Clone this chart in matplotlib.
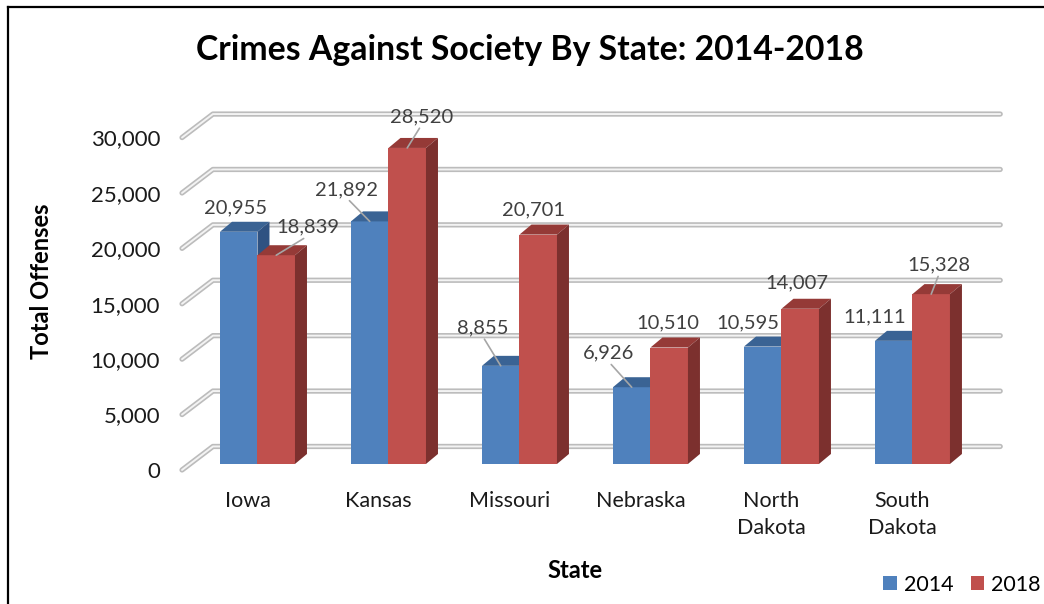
import matplotlib.pyplot as plt
from matplotlib.patches import Polygon
from matplotlib.lines import Line2D
import numpy as np

plt.rcParams["font.family"] = ["Lato", "DejaVu Sans"]

# Crimes against society, total offenses per state
states = ["Iowa", "Kansas", "Missouri", "Nebraska", "North\nDakota", "South\nDakota"]
years = ["2014", "2018"]
offenses_2014 = [20955, 21892, 8855, 6926, 10595, 11111]
offenses_2018 = [18839, 28520, 20701, 10510, 14007, 15328]
y_ticks = [0, 5000, 10000, 15000, 20000, 25000, 30000]

# Data label placement (pixel offsets from the bar top) and leader lines
label_offsets_2014 = [(-3, 24), (-23, 32), (-18, 38), (-23, 34), (-15, 24), (-19, 24)]
label_offsets_2018 = [(32, 28), (14, 31), (-5, 25), (-1, 25), (-3, 26), (8, 29)]
leaders_2014 = [False, True, True, True, False, False]
leaders_2018 = [True, True, False, False, False, True]

FRONT = {"2014": "#4f81bd", "2018": "#c0504d"}
TOP = {"2014": "#3a6394", "2018": "#953a37"}
SIDE = {"2014": "#2f5282", "2018": "#7c302e"}

# figure is 1044 x 604 px; axes box given in pixels from the top-left
FIG_W, FIG_H = 1044, 604
AX_L, AX_T, AX_R, AX_B = 165, 90, 1020, 490
X_LIM = (-0.706, 5.821)
Y_LIM = (-2350, 33750)

SX = (X_LIM[1] - X_LIM[0]) / (AX_R - AX_L)   # data units per pixel
SY = (Y_LIM[1] - Y_LIM[0]) / (AX_B - AX_T)


def main():
    fig = plt.figure(figsize=(FIG_W / 100, FIG_H / 100), dpi=100)
    ax = fig.add_axes([AX_L / FIG_W, 1 - AX_B / FIG_H,
                       (AX_R - AX_L) / FIG_W, (AX_B - AX_T) / FIG_H])
    ax.set_xlim(*X_LIM)
    ax.set_ylim(*Y_LIM)
    for s in ax.spines.values():
        s.set_visible(False)

    # 3D-looking gridlines: diagonal on the left floor edge, then along the back wall
    front_x, back_x, right_x = -0.576, -0.34, 5.67
    front_dy, back_dy = -6 * SY, 17.5 * SY
    for v in y_ticks:
        xs = [front_x, back_x, right_x]
        ys = [v + front_dy, v + back_dy, v + back_dy]
        ax.plot(xs, ys, color="#bcbcbc", lw=3.8, solid_capstyle="round",
                solid_joinstyle="round", zorder=1)
        ax.plot(xs, ys, color="#f3f3f3", lw=1.4, solid_capstyle="round",
                solid_joinstyle="round", zorder=1.1)

    x = np.arange(len(states))
    w = 37.5 * SX
    ddx, ddy = 12 * SX, 10 * SY

    series = [
        ("2014", offenses_2014, x - w / 2, label_offsets_2014, leaders_2014, 3),
        ("2018", offenses_2018, x + w / 2, label_offsets_2018, leaders_2018, 4),
    ]
    for year, vals, xc, offsets, leaders, z in series:
        ax.bar(xc, vals, w, color=FRONT[year], label=year, zorder=z)
        for xi, h in zip(xc, vals):
            x0, x1 = xi - w / 2, xi + w / 2
            top = [(x0, h), (x1, h), (x1 + ddx, h + ddy), (x0 + ddx, h + ddy)]
            side = [(x1, 0), (x1 + ddx, ddy), (x1 + ddx, h + ddy), (x1, h)]
            ax.add_patch(Polygon(top, closed=True, fc=TOP[year], ec="none", zorder=z))
            ax.add_patch(Polygon(side, closed=True, fc=SIDE[year], ec="none", zorder=z))

    for year, vals, xc, offsets, leaders, z in series:
        for xi, h, off, lead in zip(xc, vals, offsets, leaders):
            arrow = None
            if lead:
                arrow = dict(arrowstyle="-", color="#a6a6a6", lw=1.2,
                             relpos=(0.5, 0.0), shrinkA=0, shrinkB=0)
            ax.annotate(f"{h:,}", xy=(xi, h), xytext=off, textcoords="offset pixels",
                        ha="center", va="center", fontsize=14.5, color="#404040",
                        arrowprops=arrow, zorder=6)

    # axis labels sit on the front plane / slightly left of the bar groups
    ax.set_yticks([v + front_dy for v in y_ticks])
    ax.set_yticklabels([f"{v:,}" for v in y_ticks], fontsize=16, color="#1a1a1a")
    ax.set_xticks(x - 10 * SX)
    ax.set_xticklabels(states, fontsize=15.5, color="#1a1a1a", linespacing=1.4, va="top")
    ax.tick_params(axis="y", length=0, pad=3.5)
    ax.tick_params(axis="x", length=0, pad=1)

    fig.text(530 / FIG_W, 1 - 50 / FIG_H, "Crimes Against Society By State: 2014-2018",
             ha="center", va="center", fontsize=24.3, fontweight="bold")
    fig.text(42 / FIG_W, 1 - 281 / FIG_H, "Total Offenses", rotation=90,
             ha="center", va="center", fontsize=17, fontweight="bold")
    fig.text(575 / FIG_W, 1 - 570 / FIG_H, "State",
             ha="center", va="center", fontsize=17, fontweight="bold")

    ax.legend(loc="center", bbox_to_anchor=(962 / FIG_W, 1 - 585 / FIG_H),
              bbox_transform=fig.transFigure, ncol=2, frameon=False, fontsize=15.5,
              handlelength=0.62, handleheight=0.62, handletextpad=0.33,
              columnspacing=0.8, borderpad=0, borderaxespad=0)

    # outer chart border (top and left edges visible)
    fig.add_artist(Line2D([8 / FIG_W, 8 / FIG_W], [0, 1 - 7 / FIG_H],
                          color="black", lw=1.6, transform=fig.transFigure))
    fig.add_artist(Line2D([8 / FIG_W, 1], [1 - 7 / FIG_H, 1 - 7 / FIG_H],
                          color="black", lw=1.6, transform=fig.transFigure))

    fig.savefig("out.png", dpi=100)
    plt.close(fig)


if __name__ == "__main__":
    main()
